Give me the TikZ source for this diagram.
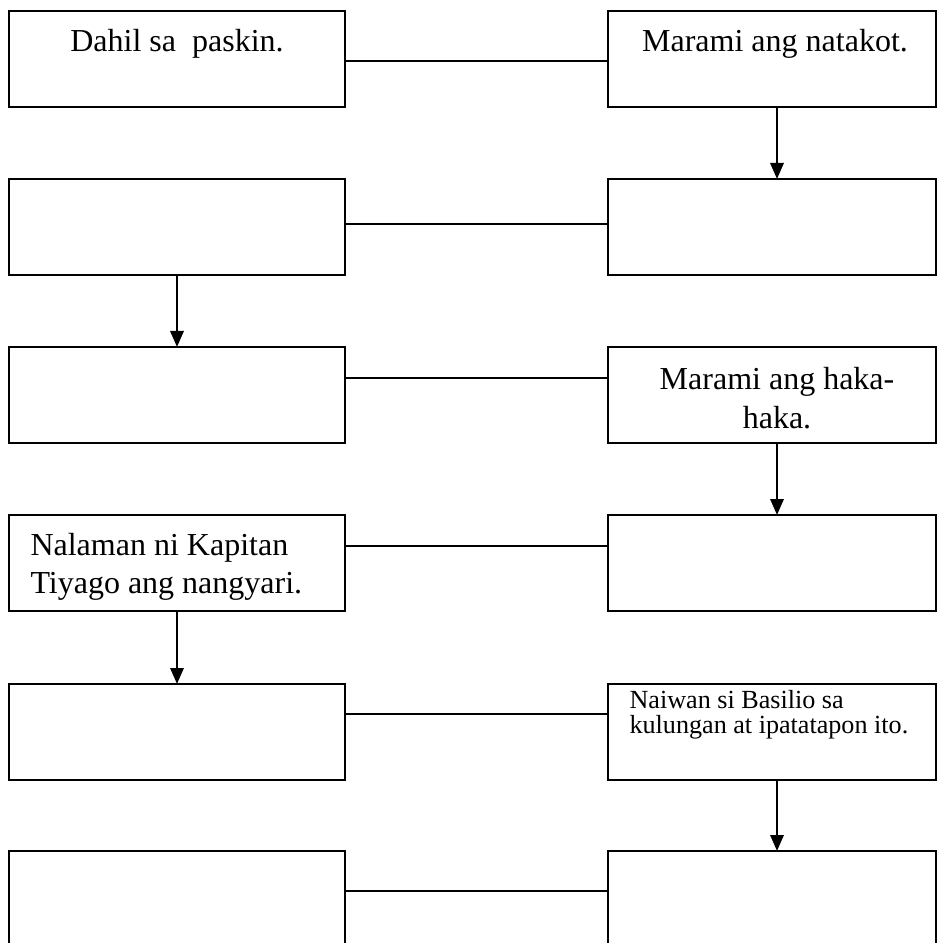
\documentclass[tikz,border=0pt]{standalone}
\usepackage{fontspec}
\setmainfont{Liberation Serif}
\usetikzlibrary{arrows.meta}
\def\px{0.375pt}
\begin{document}
\begin{tikzpicture}[x=0.375pt,y=-0.375pt,
	box/.style={draw,line width=1pt,inner sep=0pt,outer sep=0pt,minimum height=36pt},
	lbox/.style={box,minimum width=126pt},
	rbox/.style={box,minimum width=123pt},
	link/.style={line width=0.8pt},
	flow/.style={line width=0.8pt,-{Triangle[length=6pt,width=5pt]}},
	big/.style={inner sep=0pt,font=\fontsize{12}{14.5}\selectfont},
	small/.style={inner sep=0pt,font=\fontsize{9.8}{9.6}\selectfont}]
	\useasboundingbox (0,0) rectangle (938,943);
	\clip (0,0) rectangle (938,943);
	% mga kahon sa kaliwa
	\node[lbox] (l1) at (177,59) {};
	\node[lbox] (l2) at (177,227) {};
	\node[lbox] (l3) at (177,395) {};
	\node[lbox] (l4) at (177,563) {};
	\node[lbox] (l5) at (177,732) {};
	\node[lbox] (l6) at (177,899) {};
	% mga kahon sa kanan
	\node[rbox] (r1) at (772,59) {};
	\node[rbox] (r2) at (772,227) {};
	\node[rbox] (r3) at (772,395) {};
	\node[rbox] (r4) at (772,563) {};
	\node[rbox] (r5) at (772,732) {};
	\node[rbox] (r6) at (772,899) {};
	% mga guhit sa gitna
	\foreach \i/\d in {1/50,2/45,3/31,4/31,5/30,6/40}
		\draw[link] ([yshift=-\d*\px]l\i.north east) -- ([yshift=-\d*\px]r\i.north west);
	% mga palaso
	\draw[flow] ([xshift=5*\px]r1.south) -- ([xshift=5*\px]r2.north);
	\draw[flow] (l2.south) -- (l3.north);
	\draw[flow] ([xshift=5*\px]r3.south) -- ([xshift=5*\px]r4.north);
	\draw[flow] (l4.south) -- (l5.north);
	\draw[flow] ([xshift=5*\px]r5.south) -- ([xshift=5*\px]r6.north);
	% mga teksto
	\node[big,anchor=base] (t1) at ([yshift=-41*\px]l1.north) {Dahil sa~ paskin.};
	\node[big,anchor=base] (t2) at ([xshift=3*\px,yshift=-41*\px]r1.north) {Marami ang natakot.};
	\node[big,anchor=base] (t3) at ([xshift=5*\px,yshift=-43*\px]r3.north) {\begin{tabular}[t]{@{}c@{}}Marami ang haka-\\haka.\end{tabular}};
	\node[big,anchor=base west] (t4) at ([xshift=21*\px,yshift=-40*\px]l4.north west) {\begin{tabular}[t]{@{}l@{}}Nalaman ni Kapitan\\Tiyago ang nangyari.\end{tabular}};
	\node[small,anchor=base west] (t5) at ([xshift=21*\px,yshift=-24*\px]r5.north west) {\begin{tabular}[t]{@{}l@{}}Naiwan si Basilio sa\\kulungan at ipatatapon ito.\end{tabular}};
\end{tikzpicture}
\end{document}
